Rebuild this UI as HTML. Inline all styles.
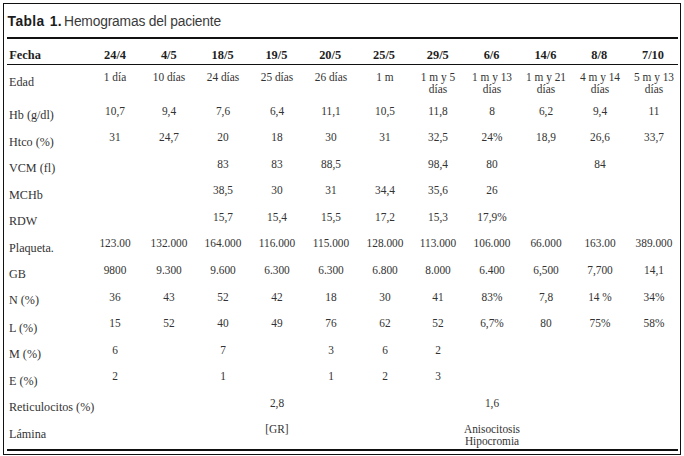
<!DOCTYPE html>
<html><head><meta charset="utf-8"><style>
html,body{margin:0;padding:0;background:#fff;}
body{width:684px;height:456px;position:relative;overflow:hidden;font-family:"Liberation Serif",serif;color:#333;}
.b{position:absolute;background:#111;}
.t{position:absolute;white-space:nowrap;}
.c{position:absolute;white-space:nowrap;width:100px;text-align:center;}
.lab{font-size:12.4px;line-height:13px;transform:scaleX(0.98);transform-origin:0 0;}
.dat{font-size:12.0px;line-height:12px;transform:scaleX(0.945);}
.hd{font-size:12.4px;line-height:13px;font-weight:bold;color:#1e1e1e;transform:scaleX(1.0);}
.ttl{font-family:"Liberation Sans",sans-serif;font-size:13.8px;line-height:14px;color:#3a3a3a;}
.ttl b{font-size:13.8px;color:#1c1c1c;letter-spacing:0.4px;}
.reg{letter-spacing:-0.18px;}
</style></head><body>

<div style="position:absolute;left:3px;top:3px;width:676px;height:450px;border:1px solid #111"></div>
<div class="b" style="left:7px;top:37px;width:671px;height:2px"></div>
<div class="b" style="left:7px;top:64px;width:671px;height:1px"></div>
<div class="b" style="left:7px;top:449px;width:671px;height:2px"></div>
<div class="t ttl" style="left:7.6px;top:15px"><b>Tabla</b></div>
<div class="t ttl" style="left:49.8px;top:15px"><b>1.</b></div>
<div class="t ttl reg" style="left:64.1px;top:15px">Hemogramas del paciente</div>
<div class="t hd" style="left:9.30px;top:49px">Fecha</div>
<div class="c hd" style="left:65.00px;top:49px">24/4</div>
<div class="c hd" style="left:118.80px;top:49px">4/5</div>
<div class="c hd" style="left:172.60px;top:49px">18/5</div>
<div class="c hd" style="left:226.40px;top:49px">19/5</div>
<div class="c hd" style="left:280.20px;top:49px">20/5</div>
<div class="c hd" style="left:334.00px;top:49px">25/5</div>
<div class="c hd" style="left:387.80px;top:49px">29/5</div>
<div class="c hd" style="left:441.60px;top:49px">6/6</div>
<div class="c hd" style="left:495.40px;top:49px">14/6</div>
<div class="c hd" style="left:549.20px;top:49px">8/8</div>
<div class="c hd" style="left:603.00px;top:49px">7/10</div>
<div class="t lab" style="left:9.30px;top:76px">Edad</div>
<div class="c dat" style="left:65.00px;top:71px">1 día</div>
<div class="c dat" style="left:118.90px;top:71px">10 días</div>
<div class="c dat" style="left:172.80px;top:71px">24 días</div>
<div class="c dat" style="left:226.70px;top:71px">25 días</div>
<div class="c dat" style="left:280.60px;top:71px">26 días</div>
<div class="c dat" style="left:334.50px;top:71px">1 m</div>
<div class="c dat" style="left:388.40px;top:71px">1 m y 5<br>días</div>
<div class="c dat" style="left:442.30px;top:71px">1 m y 13<br>días</div>
<div class="c dat" style="left:496.20px;top:71px">1 m y 21<br>días</div>
<div class="c dat" style="left:550.10px;top:71px">4 m y 14<br>días</div>
<div class="c dat" style="left:604.00px;top:71px">5 m y 13<br>días</div>
<div class="t lab" style="left:9.30px;top:109px">Hb (g/dl)</div>
<div class="c dat" style="left:65.00px;top:105px">10,7</div>
<div class="c dat" style="left:118.90px;top:105px">9,4</div>
<div class="c dat" style="left:172.80px;top:105px">7,6</div>
<div class="c dat" style="left:226.70px;top:105px">6,4</div>
<div class="c dat" style="left:280.60px;top:105px">11,1</div>
<div class="c dat" style="left:334.50px;top:105px">10,5</div>
<div class="c dat" style="left:388.40px;top:105px">11,8</div>
<div class="c dat" style="left:442.30px;top:105px">8</div>
<div class="c dat" style="left:496.20px;top:105px">6,2</div>
<div class="c dat" style="left:550.10px;top:105px">9,4</div>
<div class="c dat" style="left:604.00px;top:105px">11</div>
<div class="t lab" style="left:9.30px;top:136px">Htco (%)</div>
<div class="c dat" style="left:65.00px;top:131px">31</div>
<div class="c dat" style="left:118.90px;top:131px">24,7</div>
<div class="c dat" style="left:172.80px;top:131px">20</div>
<div class="c dat" style="left:226.70px;top:131px">18</div>
<div class="c dat" style="left:280.60px;top:131px">30</div>
<div class="c dat" style="left:334.50px;top:131px">31</div>
<div class="c dat" style="left:388.40px;top:131px">32,5</div>
<div class="c dat" style="left:442.30px;top:131px">24%</div>
<div class="c dat" style="left:496.20px;top:131px">18,9</div>
<div class="c dat" style="left:550.10px;top:131px">26,6</div>
<div class="c dat" style="left:604.00px;top:131px">33,7</div>
<div class="t lab" style="left:9.30px;top:162px">VCM (fl)</div>
<div class="c dat" style="left:172.80px;top:158px">83</div>
<div class="c dat" style="left:226.70px;top:158px">83</div>
<div class="c dat" style="left:280.60px;top:158px">88,5</div>
<div class="c dat" style="left:388.40px;top:158px">98,4</div>
<div class="c dat" style="left:442.30px;top:158px">80</div>
<div class="c dat" style="left:550.10px;top:158px">84</div>
<div class="t lab" style="left:9.30px;top:189px">MCHb</div>
<div class="c dat" style="left:172.80px;top:184px">38,5</div>
<div class="c dat" style="left:226.70px;top:184px">30</div>
<div class="c dat" style="left:280.60px;top:184px">31</div>
<div class="c dat" style="left:334.50px;top:184px">34,4</div>
<div class="c dat" style="left:388.40px;top:184px">35,6</div>
<div class="c dat" style="left:442.30px;top:184px">26</div>
<div class="t lab" style="left:9.30px;top:215px">RDW</div>
<div class="c dat" style="left:172.80px;top:211px">15,7</div>
<div class="c dat" style="left:226.70px;top:211px">15,4</div>
<div class="c dat" style="left:280.60px;top:211px">15,5</div>
<div class="c dat" style="left:334.50px;top:211px">17,2</div>
<div class="c dat" style="left:388.40px;top:211px">15,3</div>
<div class="c dat" style="left:442.30px;top:211px">17,9%</div>
<div class="t lab" style="left:9.30px;top:242px">Plaqueta.</div>
<div class="c dat" style="left:65.00px;top:237px">123.00</div>
<div class="c dat" style="left:118.90px;top:237px">132.000</div>
<div class="c dat" style="left:172.80px;top:237px">164.000</div>
<div class="c dat" style="left:226.70px;top:237px">116.000</div>
<div class="c dat" style="left:280.60px;top:237px">115.000</div>
<div class="c dat" style="left:334.50px;top:237px">128.000</div>
<div class="c dat" style="left:388.40px;top:237px">113.000</div>
<div class="c dat" style="left:442.30px;top:237px">106.000</div>
<div class="c dat" style="left:496.20px;top:237px">66.000</div>
<div class="c dat" style="left:550.10px;top:237px">163.00</div>
<div class="c dat" style="left:604.00px;top:237px">389.000</div>
<div class="t lab" style="left:9.30px;top:268px">GB</div>
<div class="c dat" style="left:65.00px;top:264px">9800</div>
<div class="c dat" style="left:118.90px;top:264px">9.300</div>
<div class="c dat" style="left:172.80px;top:264px">9.600</div>
<div class="c dat" style="left:226.70px;top:264px">6.300</div>
<div class="c dat" style="left:280.60px;top:264px">6.300</div>
<div class="c dat" style="left:334.50px;top:264px">6.800</div>
<div class="c dat" style="left:388.40px;top:264px">8.000</div>
<div class="c dat" style="left:442.30px;top:264px">6.400</div>
<div class="c dat" style="left:496.20px;top:264px">6,500</div>
<div class="c dat" style="left:550.10px;top:264px">7,700</div>
<div class="c dat" style="left:604.00px;top:264px">14,1</div>
<div class="t lab" style="left:9.30px;top:294px">N (%)</div>
<div class="c dat" style="left:65.00px;top:291px">36</div>
<div class="c dat" style="left:118.90px;top:291px">43</div>
<div class="c dat" style="left:172.80px;top:291px">52</div>
<div class="c dat" style="left:226.70px;top:291px">42</div>
<div class="c dat" style="left:280.60px;top:291px">18</div>
<div class="c dat" style="left:334.50px;top:291px">30</div>
<div class="c dat" style="left:388.40px;top:291px">41</div>
<div class="c dat" style="left:442.30px;top:291px">83%</div>
<div class="c dat" style="left:496.20px;top:291px">7,8</div>
<div class="c dat" style="left:550.10px;top:291px">14 %</div>
<div class="c dat" style="left:604.00px;top:291px">34%</div>
<div class="t lab" style="left:9.30px;top:322px">L (%)</div>
<div class="c dat" style="left:65.00px;top:317px">15</div>
<div class="c dat" style="left:118.90px;top:317px">52</div>
<div class="c dat" style="left:172.80px;top:317px">40</div>
<div class="c dat" style="left:226.70px;top:317px">49</div>
<div class="c dat" style="left:280.60px;top:317px">76</div>
<div class="c dat" style="left:334.50px;top:317px">62</div>
<div class="c dat" style="left:388.40px;top:317px">52</div>
<div class="c dat" style="left:442.30px;top:317px">6,7%</div>
<div class="c dat" style="left:496.20px;top:317px">80</div>
<div class="c dat" style="left:550.10px;top:317px">75%</div>
<div class="c dat" style="left:604.00px;top:317px">58%</div>
<div class="t lab" style="left:9.30px;top:348px">M (%)</div>
<div class="c dat" style="left:65.00px;top:344px">6</div>
<div class="c dat" style="left:172.80px;top:344px">7</div>
<div class="c dat" style="left:280.60px;top:344px">3</div>
<div class="c dat" style="left:334.50px;top:344px">6</div>
<div class="c dat" style="left:388.40px;top:344px">2</div>
<div class="t lab" style="left:9.30px;top:375px">E (%)</div>
<div class="c dat" style="left:65.00px;top:370px">2</div>
<div class="c dat" style="left:172.80px;top:370px">1</div>
<div class="c dat" style="left:280.60px;top:370px">1</div>
<div class="c dat" style="left:334.50px;top:370px">2</div>
<div class="c dat" style="left:388.40px;top:370px">3</div>
<div class="t lab" style="left:9.30px;top:401px">Reticulocitos (%)</div>
<div class="c dat" style="left:226.70px;top:397px">2,8</div>
<div class="c dat" style="left:442.30px;top:397px">1,6</div>
<div class="t lab" style="left:9.30px;top:428px">Lámina</div>
<div class="c dat" style="left:226.70px;top:423px">[GR]</div>
<div class="c dat" style="left:442.30px;top:423px">Anisocitosis<br>Hipocromia</div>
</body></html>
